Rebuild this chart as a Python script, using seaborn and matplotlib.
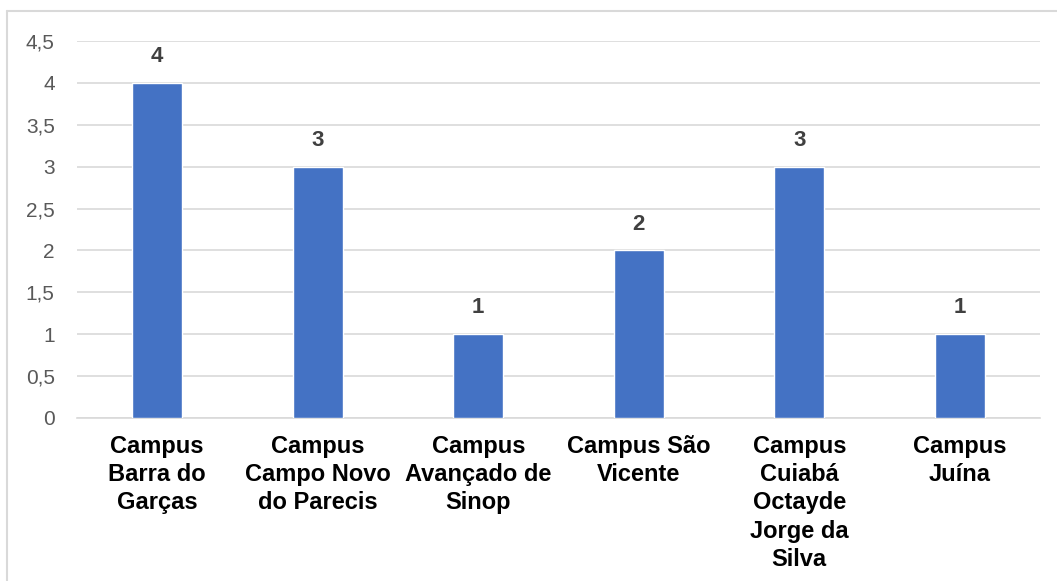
import matplotlib
matplotlib.use("Agg")
import matplotlib.pyplot as plt
import seaborn as sns
import pandas as pd
from matplotlib.lines import Line2D

categories = [
    "Campus\nBarra do\nGarças",
    "Campus\nCampo Novo\ndo Parecis",
    "Campus\nAvançado de\nSinop",
    "Campus São\nVicente",
    "Campus\nCuiabá\nOctayde\nJorge da\nSilva",
    "Campus\nJuína",
]
values = [4, 3, 1, 2, 3, 1]
yticks = [0, 0.5, 1, 1.5, 2, 2.5, 3, 3.5, 4, 4.5]
ytick_labels = ["0", "0,5", "1", "1,5", "2", "2,5", "3", "3,5", "4", "4,5"]

sns.set_theme(style="white")
plt.rcParams["font.family"] = ["Liberation Sans", "DejaVu Sans"]

df = pd.DataFrame({"cat": categories, "val": values})

fig = plt.figure(figsize=(10.57, 5.81), dpi=100)
ax = fig.add_axes([0.0728, 0.2806, 0.9112, 0.6488])

sns.barplot(data=df, x="cat", y="val", color="#4472C4", width=0.31,
            saturation=1, ax=ax, zorder=3)

ax.set_ylim(0, 4.5)
ax.set_xlim(-0.5, len(categories) - 0.5)
ax.set_yticks(yticks)
ax.set_yticklabels(ytick_labels, color="#595959", fontsize=15)
ax.set_xticks(range(len(categories)))
ax.set_xticklabels(categories, fontsize=17, fontweight="bold", color="black",
                   linespacing=1.3, va="top")
ax.tick_params(axis="x", length=0, pad=12)
ax.tick_params(axis="y", length=0, pad=16)
ax.set_xlabel("")
ax.set_ylabel("")

ax.grid(axis="y", color="#D9D9D9", linewidth=1.2, zorder=0)
for s in ["top", "right", "left"]:
    ax.spines[s].set_visible(False)
ax.spines["bottom"].set_color("#D9D9D9")
ax.spines["bottom"].set_linewidth(1.2)

for i, v in enumerate(values):
    ax.annotate(str(v), (i, v), xytext=(0, 19), textcoords="offset points",
                ha="center", va="center", fontsize=16, fontweight="heavy",
                color="#404040")

# chart frame (top and left edges)
fig.add_artist(Line2D([7 / 1057, 1], [1 - 11 / 581, 1 - 11 / 581],
                      transform=fig.transFigure, color="#D9D9D9", linewidth=1.5))
fig.add_artist(Line2D([7 / 1057, 7 / 1057], [0, 1 - 11 / 581],
                      transform=fig.transFigure, color="#D9D9D9", linewidth=1.5))

fig.savefig("out.png", dpi=100, facecolor="white")
